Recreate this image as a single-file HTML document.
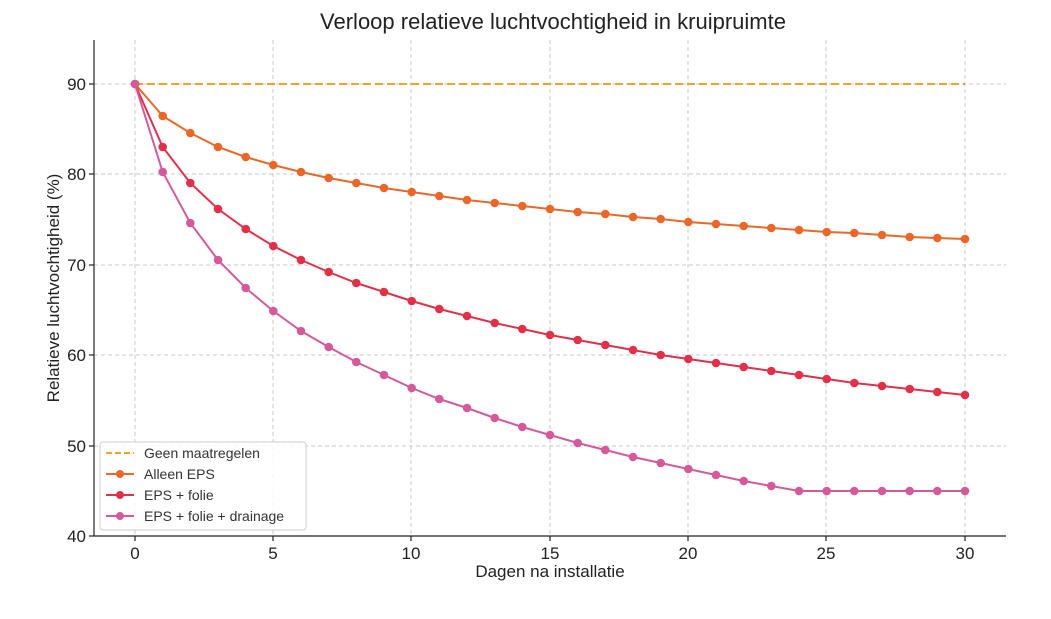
<!DOCTYPE html>
<html><head><meta charset="utf-8"><style>
html,body{margin:0;padding:0;background:#fff;}
svg{display:block;font-family:"Liberation Sans","DejaVu Sans",sans-serif;}
</style></head><body>
<svg width="1051" height="619" viewBox="0 0 1051 619" xmlns="http://www.w3.org/2000/svg">
<defs>
<marker id="mo" markerUnits="userSpaceOnUse" markerWidth="10" markerHeight="10" refX="5" refY="5"><circle cx="5" cy="5" r="4.3" fill="#e8682a"/></marker>
<marker id="mr" markerUnits="userSpaceOnUse" markerWidth="10" markerHeight="10" refX="5" refY="5"><circle cx="5" cy="5" r="4.3" fill="#e0304a"/></marker>
<marker id="mp" markerUnits="userSpaceOnUse" markerWidth="10" markerHeight="10" refX="5" refY="5"><circle cx="5" cy="5" r="4.3" fill="#d45a9a"/></marker>
</defs>
<rect width="1051" height="619" fill="#fff"/>
<text x="553" y="29" font-size="22" text-anchor="middle" fill="#222">Verloop relatieve luchtvochtigheid in kruipruimte</text>
<g stroke="#c8c8c8" stroke-dasharray="4,3" stroke-width="1">
<line x1="135" y1="40" x2="135" y2="536"/><line x1="273" y1="40" x2="273" y2="536"/>
<line x1="411" y1="40" x2="411" y2="536"/><line x1="550" y1="40" x2="550" y2="536"/>
<line x1="688" y1="40" x2="688" y2="536"/><line x1="826" y1="40" x2="826" y2="536"/>
<line x1="965" y1="40" x2="965" y2="536"/>
<line x1="94" y1="84" x2="1006" y2="84"/><line x1="94" y1="174" x2="1006" y2="174"/>
<line x1="94" y1="265" x2="1006" y2="265"/><line x1="94" y1="355" x2="1006" y2="355"/>
<line x1="94" y1="446" x2="1006" y2="446"/>
</g>
<g stroke="#222" stroke-width="1.2">
<line x1="94" y1="40" x2="94" y2="536"/><line x1="94" y1="536" x2="1006" y2="536"/>
<line x1="135" y1="536" x2="135" y2="541"/><line x1="273" y1="536" x2="273" y2="541"/>
<line x1="411" y1="536" x2="411" y2="541"/><line x1="550" y1="536" x2="550" y2="541"/>
<line x1="688" y1="536" x2="688" y2="541"/><line x1="826" y1="536" x2="826" y2="541"/>
<line x1="965" y1="536" x2="965" y2="541"/>
<line x1="89" y1="84" x2="94" y2="84"/><line x1="89" y1="174" x2="94" y2="174"/>
<line x1="89" y1="265" x2="94" y2="265"/><line x1="89" y1="355" x2="94" y2="355"/>
<line x1="89" y1="446" x2="94" y2="446"/><line x1="89" y1="536" x2="94" y2="536"/>
</g>
<g font-size="17" fill="#222" text-anchor="middle">
<text x="135" y="559">0</text><text x="273" y="559">5</text><text x="411" y="559">10</text>
<text x="550" y="559">15</text><text x="688" y="559">20</text><text x="826" y="559">25</text>
<text x="965" y="559">30</text>
<text x="550" y="577">Dagen na installatie</text>
</g>
<g font-size="17" fill="#222" text-anchor="end">
<text x="86" y="90">90</text><text x="86" y="180">80</text><text x="86" y="271">70</text>
<text x="86" y="361">60</text><text x="86" y="452">50</text><text x="86" y="542">40</text>
</g>
<text transform="translate(59,288) rotate(-90)" font-size="17" fill="#222" text-anchor="middle">Relatieve luchtvochtigheid (%)</text>
<line x1="135" y1="84" x2="965" y2="84" stroke="#f5a22a" stroke-width="2" stroke-dasharray="8,4"/>
<polyline fill="none" stroke="#e8682a" stroke-width="2" marker-start="url(#mo)" marker-mid="url(#mo)" marker-end="url(#mo)" points="135,84 162.7,116 190.3,133 218,147 245.7,157 273.3,165 301,172 328.7,178 356.3,183 384,188 411.7,192 439.3,196 467,200 494.7,203 522.3,206 550,209 577.7,212 605.3,214 633,217 660.7,219 688.3,222 716,224 743.7,226 771.3,228 799,230 826.7,232 854.3,233 882,235 909.7,237 937.3,238 965,239"/>
<polyline fill="none" stroke="#e0304a" stroke-width="2" marker-start="url(#mr)" marker-mid="url(#mr)" marker-end="url(#mr)" points="135,84 162.7,147 190.3,183 218,209 245.7,229 273.3,246 301,260 328.7,272 356.3,283 384,292 411.7,301 439.3,309 467,316 494.7,323 522.3,329 550,335 577.7,340 605.3,345 633,350 660.7,355 688.3,359 716,363 743.7,367 771.3,371 799,375 826.7,379 854.3,383 882,386 909.7,389 937.3,392 965,395"/>
<polyline fill="none" stroke="#d45a9a" stroke-width="2" marker-start="url(#mp)" marker-mid="url(#mp)" marker-end="url(#mp)" points="135,84 162.7,172 190.3,223 218,260 245.7,288 273.3,311 301,331 328.7,347 356.3,362 384,375 411.7,388 439.3,399 467,408 494.7,418 522.3,427 550,435 577.7,443 605.3,450 633,457 660.7,463 688.3,469 716,475 743.7,481 771.3,486 799,491 826.7,491 854.3,491 882,491 909.7,491 937.3,491 965,491"/>
<g font-size="14" fill="#333">
<rect x="100" y="442" width="206" height="88" fill="#fff" fill-opacity="0.85" stroke="#ccc" rx="3"/>
<line x1="106" y1="453" x2="134" y2="453" stroke="#f5a22a" stroke-width="2" stroke-dasharray="6,3"/>
<text x="144" y="458">Geen maatregelen</text>
<line x1="106" y1="474" x2="134" y2="474" stroke="#e8682a" stroke-width="2"/><circle cx="120" cy="474" r="4" fill="#e8682a"/>
<text x="144" y="479">Alleen EPS</text>
<line x1="106" y1="495" x2="134" y2="495" stroke="#e0304a" stroke-width="2"/><circle cx="120" cy="495" r="4" fill="#e0304a"/>
<text x="144" y="500">EPS + folie</text>
<line x1="106" y1="516" x2="134" y2="516" stroke="#d45a9a" stroke-width="2"/><circle cx="120" cy="516" r="4" fill="#d45a9a"/>
<text x="144" y="521">EPS + folie + drainage</text>
</g>
</svg>
</body></html>
